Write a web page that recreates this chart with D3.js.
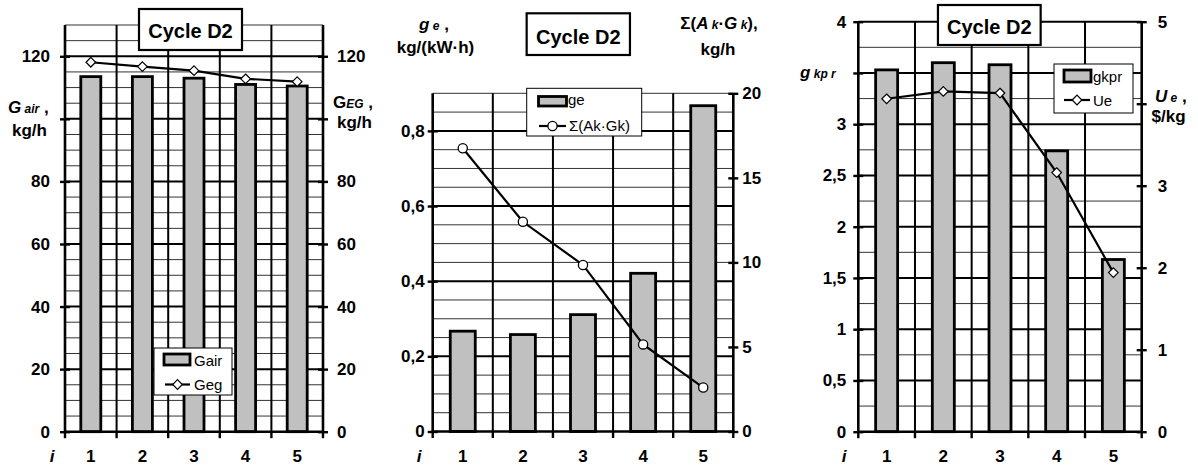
<!DOCTYPE html>
<html>
<head>
<meta charset="utf-8">
<script src="https://cdn.jsdelivr.net/npm/d3@7"></script>
<style>
  html, body { margin: 0; padding: 0; background: #fff; }
  svg { display: block; }
  text { font-family: "Liberation Sans", Arial, sans-serif; fill: #000; }
</style>
</head>
<body>
<svg id="chart" width="1198" height="466"></svg>
<script>
// ---------------- DATA ----------------
const categories = ["1", "2", "3", "4", "5"];

// Panel 1
const gair = [113.5, 113.5, 113, 111, 110.5];
const geg = [118.1, 116.7, 115.4, 112.8, 111.9];
const p1LeftTicks = [0, 20, 40, 60, 80, 100, 120];
const p1LeftLabels = ["0", "20", "40", "60", "80", "", "120"];
const p1RightTicks = [0, 20, 40, 60, 80, 100, 120];
const p1RightLabels = ["0", "20", "40", "60", "80", "", "120"];

// Panel 2
const ge = [0.267, 0.258, 0.311, 0.421, 0.867];
const sumAkGk = [16.75, 12.4, 9.85, 5.15, 2.6];
const p2LeftTicks = [0, 0.2, 0.4, 0.6, 0.8];
const p2LeftLabels = ["0", "0,2", "0,4", "0,6", "0,8"];
const p2RightTicks = [0, 5, 10, 15, 20];
const p2RightLabels = ["0", "5", "10", "15", "20"];

// Panel 3
const gkpr = [3.53, 3.60, 3.58, 2.74, 1.68];
const ue = [4.06, 4.15, 4.13, 3.16, 1.94];
const p3LeftTicks = [0, 0.5, 1, 1.5, 2, 2.5, 3, 3.5, 4];
const p3LeftLabels = ["0", "0,5", "1", "1,5", "2", "2,5", "3", "", "4"];
const p3RightTicks = [0, 1, 2, 3, 4, 5];
const p3RightLabels = ["0", "1", "2", "3", "", "5"];

const titleText = "Cycle D2";

// ---------------- DRAWING ----------------
const svg = d3.select("#chart");
const FS = 17;
const CAT_Y = 461.5;
const BAR_FILL = "#c0c0c0";

function diamondPath(r) {
  return `M0,${-r}L${r},0L0,${r}L${-r},0Z`;
}

function drawPanel(cfg) {
  const g = svg.append("g");
  const x = d3.scaleBand().domain(categories).range([cfg.x0, cfg.x1]).padding(0);
  const yL = d3.scaleLinear().domain(cfg.leftDomain).range([cfg.y1, cfg.y0]);
  const yR = d3.scaleLinear().domain(cfg.rightDomain).range([cfg.y1, cfg.y0]);

  // horizontal gridlines
  const maxV = cfg.leftDomain[1];
  const eps = 1e-9;
  const minorVals = d3.range(0, maxV + eps, cfg.minor).filter(v => v > eps);
  minorVals.forEach(v => {
    const isMajor = Math.abs(v / cfg.major - Math.round(v / cfg.major)) < 1e-6;
    g.append("line")
      .attr("x1", cfg.x0).attr("x2", cfg.x1)
      .attr("y1", yL(v)).attr("y2", yL(v))
      .attr("stroke", isMajor ? "#000" : "#333")
      .attr("stroke-width", isMajor ? 2 : 1);
  });
  // vertical gridlines at band boundaries
  categories.forEach((c, i) => {
    if (i === 0) return;
    const xv = x(c);
    g.append("line")
      .attr("x1", xv).attr("x2", xv)
      .attr("y1", cfg.y0).attr("y2", cfg.y1)
      .attr("stroke", "#000").attr("stroke-width", 2);
  });

  // bars
  g.selectAll("rect.bar").data(cfg.bars).enter().append("rect")
    .attr("class", "bar")
    .attr("x", (d, i) => x(categories[i]) + x.bandwidth() / 2 - cfg.barWidth / 2)
    .attr("width", cfg.barWidth)
    .attr("y", d => yL(d))
    .attr("height", d => yL(0) - yL(d))
    .attr("fill", BAR_FILL)
    .attr("stroke", "#000")
    .attr("stroke-width", 2.8);

  // line series
  const line = d3.line()
    .x((d, i) => x(categories[i]) + x.bandwidth() / 2)
    .y(d => yR(d));
  g.append("path").datum(cfg.line)
    .attr("d", line)
    .attr("fill", "none").attr("stroke", "#000").attr("stroke-width", 2.2);
  cfg.line.forEach((d, i) => {
    const cx = x(categories[i]) + x.bandwidth() / 2;
    const cy = yR(d);
    if (cfg.marker === "circle") {
      g.append("circle").attr("cx", cx).attr("cy", cy).attr("r", 4.6)
        .attr("fill", "#fff").attr("stroke", "#000").attr("stroke-width", 1.3);
    } else {
      g.append("path").attr("d", diamondPath(4.8))
        .attr("transform", `translate(${cx},${cy})`)
        .attr("fill", "#fff").attr("stroke", "#000").attr("stroke-width", 1.2);
    }
  });

  // left axis
  const axL = d3.axisLeft(yL).tickValues(cfg.leftTicks).tickSize(5).tickSizeOuter(0)
    .tickPadding(cfg.leftPad)
    .tickFormat((d, i) => cfg.leftLabels[i]);
  const gL = g.append("g").attr("transform", `translate(${cfg.x0},0)`).call(axL);
  gL.select(".domain").attr("stroke", "#000").attr("stroke-width", 2.6)
    .attr("d", `M0,${cfg.y0}V${cfg.y1}`);
  gL.selectAll(".tick line").attr("x1", 5).attr("stroke-width", 2.4);
  gL.selectAll(".tick text").attr("font-size", FS).attr("font-weight", "bold")
    .attr("font-family", '"Liberation Sans", Arial, sans-serif');

  // right axis
  const axR = d3.axisRight(yR).tickValues(cfg.rightTicks).tickSize(5).tickSizeOuter(0)
    .tickPadding(cfg.rightPad)
    .tickFormat((d, i) => cfg.rightLabels[i]);
  const gR = g.append("g").attr("transform", `translate(${cfg.x1},0)`).call(axR);
  gR.select(".domain").attr("stroke", "#000").attr("stroke-width", 2.6)
    .attr("d", `M0,${cfg.y0}V${cfg.y1}`);
  gR.selectAll(".tick line").attr("x1", -5).attr("stroke-width", 2.4);
  gR.selectAll(".tick text").attr("font-size", FS).attr("font-weight", "bold")
    .attr("font-family", '"Liberation Sans", Arial, sans-serif');

  // bottom axis (ticks at band boundaries)
  const bounds = categories.map(c => x(c)).concat([cfg.x1]);
  g.append("line").attr("x1", cfg.x0 - 1).attr("x2", cfg.x1 + 1)
    .attr("y1", cfg.y1).attr("y2", cfg.y1)
    .attr("stroke", "#000").attr("stroke-width", 2.6);
  bounds.forEach(b => {
    g.append("line").attr("x1", b).attr("x2", b)
      .attr("y1", cfg.y1).attr("y2", cfg.y1 + 6.5)
      .attr("stroke", "#000").attr("stroke-width", 2.4);
  });
  categories.forEach(c => {
    g.append("text").attr("x", x(c) + x.bandwidth() / 2).attr("y", CAT_Y)
      .attr("text-anchor", "middle").attr("font-size", FS).attr("font-weight", "bold")
      .text(c);
  });
  g.append("text").attr("x", cfg.iX).attr("y", CAT_Y).attr("text-anchor", "middle")
    .attr("font-size", FS).attr("font-weight", "bold").attr("font-style", "italic")
    .text("i");

  return { g, x, yL, yR };
}

function titleBox(cx, y, w, h, baseline) {
  svg.append("rect").attr("x", cx - w / 2).attr("y", y).attr("width", w).attr("height", h)
    .attr("fill", "#fff").attr("stroke", "#000").attr("stroke-width", 2.2);
  svg.append("text").attr("x", cx).attr("y", baseline).attr("text-anchor", "middle")
    .attr("font-size", 20).attr("font-weight", "bold").text(titleText);
}

function legendBox(bx, by, bw, bh, items) {
  svg.append("rect").attr("x", bx).attr("y", by).attr("width", bw).attr("height", bh)
    .attr("fill", "#fff").attr("stroke", "#000").attr("stroke-width", 1);
  items.forEach(it => {
    if (it.type === "bar") {
      svg.append("rect").attr("x", it.sx).attr("y", it.sy).attr("width", it.sw).attr("height", it.sh)
        .attr("fill", BAR_FILL).attr("stroke", "#000").attr("stroke-width", 2.8);
    } else {
      svg.append("line").attr("x1", it.sx).attr("x2", it.sx + it.sw)
        .attr("y1", it.sy).attr("y2", it.sy).attr("stroke", "#000").attr("stroke-width", 2.2);
      const mx = it.sx + it.sw / 2;
      if (it.type === "circle") {
        svg.append("circle").attr("cx", mx).attr("cy", it.sy).attr("r", 4.6)
          .attr("fill", "#fff").attr("stroke", "#000").attr("stroke-width", 1.3);
      } else {
        svg.append("path").attr("d", diamondPath(4.8)).attr("transform", `translate(${mx},${it.sy})`)
          .attr("fill", "#fff").attr("stroke", "#000").attr("stroke-width", 1.2);
      }
    }
    svg.append("text").attr("x", it.tx).attr("y", it.ty).attr("font-size", 15).text(it.label);
  });
}

function richText(x, y, parts, anchor) {
  const t = svg.append("text").attr("x", x).attr("y", y).attr("text-anchor", anchor || "start")
    .attr("font-weight", "bold");
  parts.forEach(p => {
    t.append("tspan").attr("font-size", p.s || FS)
      .attr("font-style", p.i ? "italic" : "normal")
      .attr("dx", p.dx || 0)
      .text(p.t);
  });
  return t;
}

// ----- Panel 1 -----
drawPanel({
  x0: 65, x1: 323, y0: 25, y1: 431.7,
  leftDomain: [0, 130], rightDomain: [0, 130],
  minor: 5, major: 20,
  leftTicks: p1LeftTicks, leftLabels: p1LeftLabels, leftPad: 10,
  rightTicks: p1RightTicks, rightLabels: p1RightLabels, rightPad: 9,
  bars: gair, barWidth: 20, line: geg, marker: "diamond", iX: 52
});
titleBox(190.5, 9, 103, 41, 37.5);
legendBox(154, 348, 78, 47, [
  { type: "bar", sx: 164, sy: 354, sw: 26, sh: 11, tx: 194, ty: 366, label: "Gair" },
  { type: "diamond", sx: 165, sy: 384.5, sw: 25, tx: 194, ty: 390, label: "Geg" }
]);
richText(8, 113, [{ t: "G", i: true }, { t: " air", i: true, s: 12 }, { t: " ,", dx: 0 }]);
richText(12, 136, [{ t: "kg/h" }]);
richText(333, 108, [{ t: "G" }, { t: "EG", i: true, s: 12 }, { t: " ," }]);
richText(337, 128, [{ t: "kg/h" }]);

// ----- Panel 2 -----
drawPanel({
  x0: 432.7, x1: 733.3, y0: 93.3, y1: 431.5,
  leftDomain: [0, 0.9], rightDomain: [0, 20],
  minor: 0.05, major: 0.2,
  leftTicks: p2LeftTicks, leftLabels: p2LeftLabels, leftPad: 3,
  rightTicks: p2RightTicks, rightLabels: p2RightLabels, rightPad: 4,
  bars: ge, barWidth: 25, line: sumAkGk, marker: "circle", iX: 419
});
titleBox(578.3, 13.3, 103.3, 41.7, 43.5);
legendBox(526.7, 88.3, 115, 47.7, [
  { type: "bar", sx: 538.5, sy: 96.5, sw: 28, sh: 9.5, tx: 568, ty: 104.5, label: "ge" },
  { type: "circle", sx: 539, sy: 126, sw: 27, tx: 569, ty: 131, label: "Σ(Ak·Gk)" }
]);
richText(419, 30, [{ t: "g", i: true }, { t: " e", i: true, s: 12 }, { t: " ," }]);
richText(435.5, 53, [{ t: "kg/(kW·h)" }], "middle");
richText(719, 29, [{ t: "Σ(" }, { t: "A", i: true }, { t: " k", i: true, s: 12 }, { t: "·" },
  { t: "G", i: true }, { t: " k", i: true, s: 12 }, { t: ")," }], "middle");
richText(718, 55, [{ t: "kg/h" }], "middle");

// ----- Panel 3 -----
drawPanel({
  x0: 858.3, x1: 1141.7, y0: 21.7, y1: 431.7,
  leftDomain: [0, 4], rightDomain: [0, 5],
  minor: 0.25, major: 0.5,
  leftTicks: p3LeftTicks, leftLabels: p3LeftLabels, leftPad: 7,
  rightTicks: p3RightTicks, rightLabels: p3RightLabels, rightPad: 11,
  bars: gkpr, barWidth: 22, line: ue, marker: "diamond", iX: 844
});
titleBox(989.3, 5, 102.7, 40, 33.5);
legendBox(1054, 64, 79, 49, [
  { type: "bar", sx: 1064, sy: 70, sw: 27, sh: 12, tx: 1093, ty: 82, label: "gkpr" },
  { type: "diamond", sx: 1064, sy: 100, sw: 26, tx: 1093, ty: 105.5, label: "Ue" }
]);
richText(800, 78, [{ t: "g", i: true }, { t: " kp", i: true, s: 12 }, { t: " r", i: true, s: 12 }]);
richText(1155, 102, [{ t: "U", i: true }, { t: " e", i: true, s: 12 }, { t: " ," }]);
richText(1151.5, 122, [{ t: "$/kg" }]);
</script>
</body>
</html>
